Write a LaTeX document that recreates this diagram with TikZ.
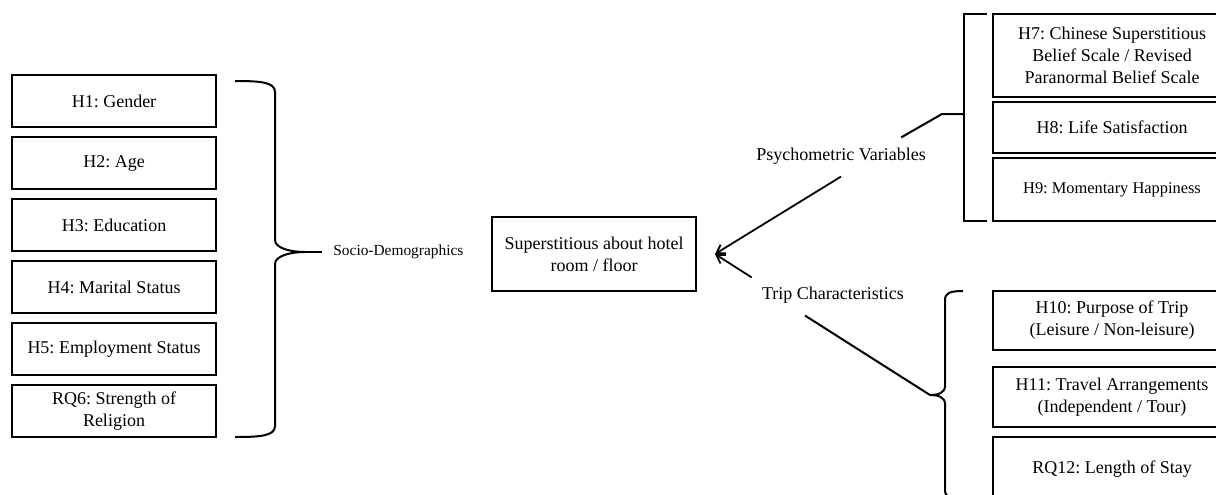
\documentclass[tikz,border=0pt]{standalone}
\usepackage{fontspec}
\setmainfont{Liberation Serif}
\frenchspacing
\usetikzlibrary{arrows.meta}
\tikzset{
	hyp/.style={draw, line width=1pt, align=center, inner sep=0pt, font=\fontsize{9}{11}\selectfont},
	lbl/.style={inner sep=3pt, font=\fontsize{9}{11}\selectfont},
	arr/.style={-{Straight Barb[length=4pt,width=5pt]}, line width=0.9pt},
	brc/.style={line width=1pt},
}

\begin{document}
\begin{tikzpicture}[x=0.5pt, y=-0.5pt]
			%%%%% START %%%%%
			\useasboundingbox (0, 0) rectangle (1216, 494);
			\clip (0, 0) rectangle (1216, 494);
			
			\node[hyp, minimum width=102pt, minimum height=26pt] (h1) at (114, 101) {H1: Gender};
			\node[hyp, minimum width=102pt, minimum height=26pt] (h2) at (114, 163) {H2: Age};
			\node[hyp, minimum width=102pt, minimum height=26pt] (h3) at (114, 225) {H3: Education};
			\node[hyp, minimum width=102pt, minimum height=26pt] (h4) at (114, 287) {H4: Marital Status};
			\node[hyp, minimum width=102pt, minimum height=26pt] (h5) at (114, 349) {H5: Employment Status};
			\node[hyp, minimum width=102pt, minimum height=26pt] (rq6) at (114, 411) {RQ6: Strength of\\Religion};
			
			\draw[brc] (235, 81) .. controls (260, 81) and (275, 82) .. (275, 92) -- (275, 240)
				.. controls (275, 248) and (290, 252) .. (305, 252)
				.. controls (290, 252) and (275, 256) .. (275, 264) -- (275, 426)
				.. controls (275, 436) and (260, 437) .. (235, 437);
			\coordinate (lbrace) at (305, 252);
			\node[lbl, anchor=west, inner sep=5.5pt, font=\fontsize{7.7}{9}\selectfont] (socio) at (322, 252) {Socio-Demographics};
			\draw[brc] (lbrace) -- (socio.west);
			
			\node[hyp, minimum width=102pt, minimum height=37pt] (sup) at (594, 254) {Superstitious about hotel\\room / floor};
			\coordinate (tip) at (715, 254);
			
			\node[lbl] (psy) at (841, 156) {Psychometric Variables};
			\node[lbl] (trip) at (833, 295) {Trip Characteristics};
			\draw[arr] ([yshift=-3pt]psy.south) -- (tip);
			\draw[arr] ([shift={(-2pt,1.5pt)}]trip.north west) -- (tip);
			
			\node[hyp, minimum width=119pt, minimum height=41.5pt] (h7) at (1112, 55.5) {H7: Chinese Superstitious\\Belief Scale / Revised\\Paranormal Belief Scale};
			\node[hyp, minimum width=119pt, minimum height=25.5pt] (h8) at (1112, 127.5) {H8: Life Satisfaction};
			\node[hyp, minimum width=119pt, minimum height=31.5pt, font=\fontsize{8.2}{10}\selectfont] (h9) at (1112, 189.5) {H9: Momentary Happiness};
			
			\draw[brc] (987, 14) -- (964, 14) -- (964, 221) -- (987, 221);
			\coordinate (rbrace) at (964, 114);
			\coordinate (psyknee) at (942, 114);
			\draw[brc] ([shift={(-15.5pt,2pt)}]psy.north east) -- (psyknee) -- (rbrace);
			
			\node[hyp, minimum width=119pt, minimum height=29.5pt] (h10) at (1112, 320.5) {H10: Purpose of Trip\\(Leisure / Non-leisure)};
			\node[hyp, minimum width=119pt, minimum height=30pt] (h11) at (1112, 397) {H11: Travel Arrangements\\(Independent / Tour)};
			\node[hyp, minimum width=119pt, minimum height=32pt] (rq12) at (1112, 469) {RQ12: Length of Stay};
			
			\draw[brc] (963, 291) .. controls (950, 291) and (945, 293) .. (945, 300) -- (945, 386)
				.. controls (945, 393) and (938, 395) .. (930, 395)
				.. controls (938, 395) and (945, 397) .. (945, 404) -- (945, 490)
				.. controls (945, 497) and (950, 499) .. (963, 499);
			\coordinate (lowbrace) at (930, 395);
			\draw[brc] ([shift={(-14pt,-3pt)}]trip.south) -- (lowbrace);
			
			%%%%% END %%%%%
		\end{tikzpicture}
\end{document}
